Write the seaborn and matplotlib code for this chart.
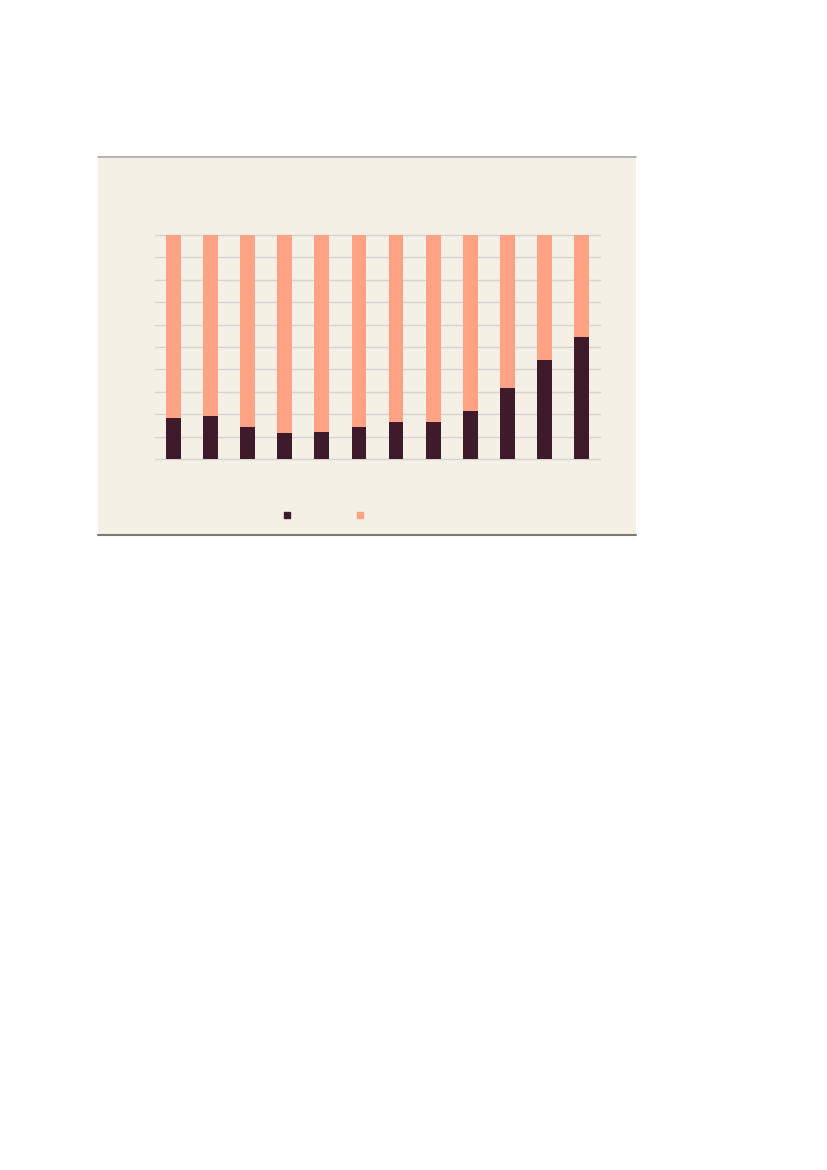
import numpy as np
import pandas as pd
import matplotlib.pyplot as plt
from matplotlib.patches import Rectangle
from matplotlib.lines import Line2D
import seaborn as sns

# values (share of each bar, in %)
categories = [str(i) for i in range(1, 13)]
dark_share = [18.1, 19.3, 14.5, 11.6, 12.2, 14.5, 16.3, 16.3, 21.6, 31.9, 44.3, 54.3]
total_share = [100] * 12

dark_col = '#3F1A2A'
peach_col = '#FFA384'
panel_col = '#F5F0E6'

df = pd.DataFrame({'cat': categories, 'dark': dark_share, 'total': total_share})

sns.set_theme(style='white')
fig = plt.figure(figsize=(8.27, 11.70), dpi=100)
fig.patch.set_facecolor('white')

# beige panel behind the chart
fig.add_artist(Rectangle((98 / 827, 1 - 535 / 1170), 538 / 827, 378 / 1170,
                         transform=fig.transFigure, facecolor=panel_col,
                         edgecolor='none', zorder=-5))
fig.add_artist(Line2D([98 / 827, 636 / 827], [1 - 157 / 1170] * 2, transform=fig.transFigure,
                      color='#A8A8A8', lw=1.2, zorder=-4))
fig.add_artist(Line2D([98 / 827, 636 / 827], [1 - 535 / 1170] * 2, transform=fig.transFigure,
                      color='#7A7A72', lw=1.5, zorder=-4))

ax = fig.add_axes([155 / 827, 1 - 459 / 1170, 445 / 827, 224 / 1170])
ax.set_zorder(2)
ax.set_facecolor('none')

sns.barplot(data=df, x='cat', y='total', color=peach_col, width=0.4, ax=ax,
            saturation=1, linewidth=0, edgecolor='none', zorder=3)
sns.barplot(data=df, x='cat', y='dark', color=dark_col, width=0.4, ax=ax,
            saturation=1, linewidth=0, edgecolor='none', zorder=4)

ax.set_ylim(0, 100)
ax.set_xlim(-0.5, 11.5)
ax.set_yticks(np.arange(0, 101, 10))
ax.yaxis.grid(True, color='#D6D4D2', lw=1, zorder=0)
ax.set_axisbelow(True)
for sp in ax.spines.values():
    sp.set_visible(False)
ax.set_xticklabels([])
ax.set_yticklabels([])
ax.tick_params(length=0)
ax.set_xlabel('')
ax.set_ylabel('')
for gl in ax.get_ygridlines():
    gl.set_clip_on(False)

handles = [Line2D([], [], ls='none', marker='s', ms=5, color=dark_col),
           Line2D([], [], ls='none', marker='s', ms=5, color=peach_col)]
leg = fig.legend(handles, ['', ''], loc='center', bbox_to_anchor=(323.5 / 827, 1 - 516 / 1170),
                 ncol=2, frameon=False, fontsize=10, handlelength=0.7, handletextpad=0,
                 columnspacing=4.55)
leg.set_zorder(3)

fig.savefig('out.png', dpi=100)
